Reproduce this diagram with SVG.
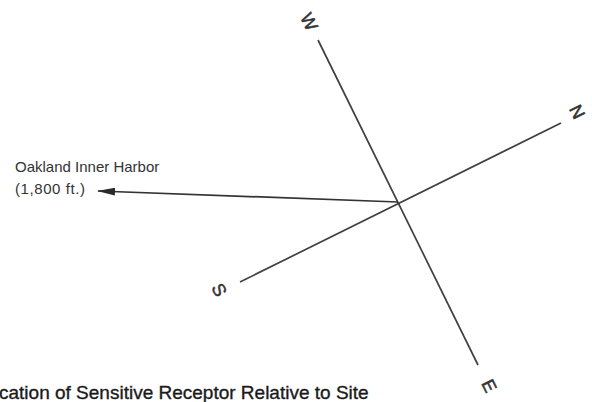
<svg xmlns="http://www.w3.org/2000/svg" width="592" height="402" viewBox="0 0 592 402">
<style>
.ax{stroke:#404040;stroke-width:1.7;fill:none}
.dir{font-family:"Liberation Sans",Arial,sans-serif;font-size:18px;fill:#333;stroke:#333;stroke-width:0.5;text-anchor:middle;dominant-baseline:central}
.lbl{font-family:"Liberation Sans",Arial,sans-serif;font-size:15px;fill:#333}
.cap{font-family:"Liberation Sans",Arial,sans-serif;font-size:19px;fill:#1a1a1a;stroke:#1a1a1a;stroke-width:0.35}
</style>
<defs>
<marker id="ah" viewBox="0 0 18 8" refX="17" refY="4" markerWidth="18" markerHeight="8" markerUnits="userSpaceOnUse" orient="auto" preserveAspectRatio="none">
<path d="M0,0 L18,4 L0,8 z" fill="#2a2a2a"/>
</marker>
</defs>
<rect width="592" height="402" fill="#fff"/>
<g id="connectors">
<line class="ax" x1="318" y1="40" x2="478" y2="365"/>
<line class="ax" x1="240" y1="282" x2="561" y2="123"/>
<line class="ax" x1="398" y1="202" x2="98" y2="191" marker-end="url(#ah)" style="stroke:#333"/>
</g>
<g id="compass-W"><text class="dir" transform="translate(309,22) rotate(63.5)">W</text></g>
<g id="compass-N"><text class="dir" transform="translate(577,112) rotate(63.5)">N</text></g>
<g id="compass-S"><text class="dir" transform="translate(219,290) rotate(63.5)">S</text></g>
<g id="compass-E"><text class="dir" transform="translate(489,386) rotate(63.5)">E</text></g>
<g id="harbor-label">
<text class="lbl" x="15" y="172">Oakland Inner Harbor</text>
<text class="lbl" x="15" y="194" textLength="70" lengthAdjust="spacing">(1,800 ft.)</text>
</g>
<g id="caption">
<text class="cap" x="-1" y="399">cation of Sensitive Receptor Relative to Site</text>
</g>
</svg>
